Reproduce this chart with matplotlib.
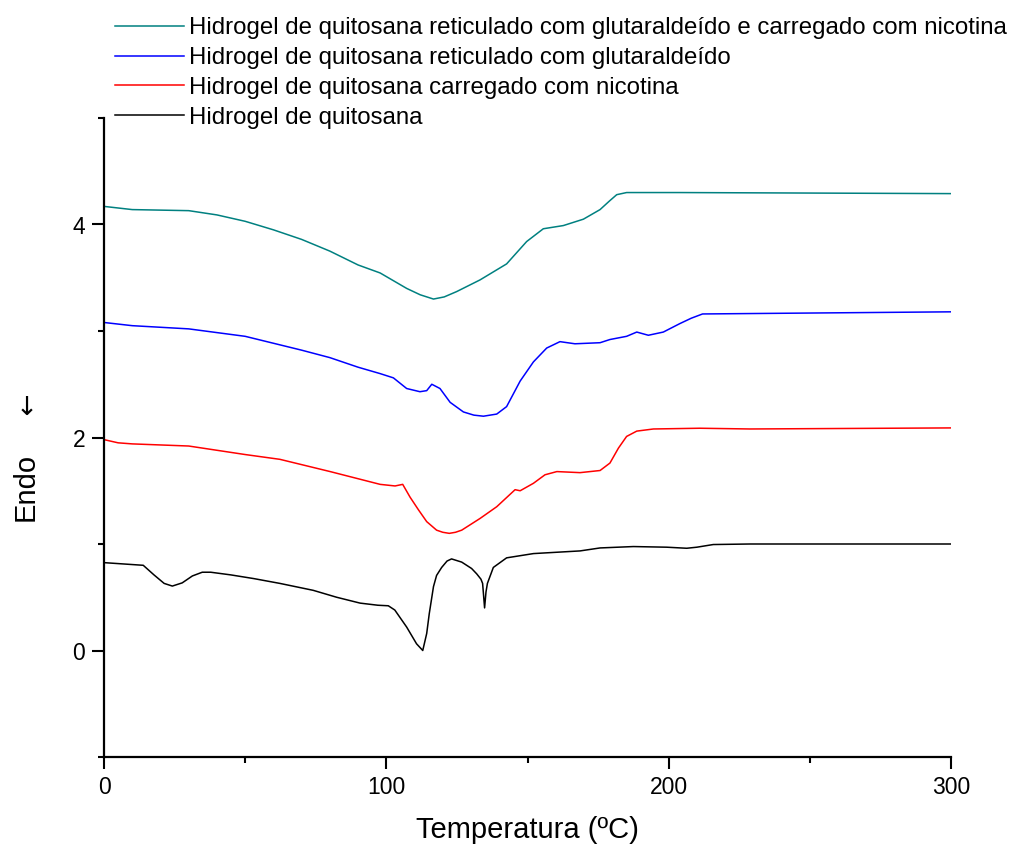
import matplotlib
matplotlib.use('Agg')
import matplotlib.pyplot as plt
from matplotlib.ticker import MultipleLocator

plt.rcParams['font.family'] = ['Liberation Sans', 'DejaVu Sans']

# Hidrogel de quitosana
black_x = [0, 13.9, 17.7, 21.3, 24.2, 27.7, 31.3, 34.8, 37.8, 44.9, 53.1, 62.3, 74.1, 82.4, 90.7,
           97, 100.7, 103, 107.2, 110.7, 112.9, 114.3, 115.2, 116.7, 117.8, 119.6, 121.5, 123.1, 126.7,
           130.2, 132.0, 133.5, 134.1, 134.8, 135.3, 135.8, 137.9, 142.6, 152.1, 168.6, 175.7, 187.5,
           199.3, 206.4, 210, 215.8, 228.8, 300]
black_y = [0.825, 0.80, 0.71, 0.63, 0.605, 0.635, 0.70, 0.735, 0.735, 0.71, 0.675, 0.63, 0.565, 0.50,
           0.445, 0.425, 0.42, 0.38, 0.22, 0.063, 0.0, 0.16, 0.345, 0.6, 0.705, 0.78, 0.84, 0.86, 0.83,
           0.77, 0.72, 0.67, 0.63, 0.40, 0.55, 0.63, 0.78, 0.87, 0.91, 0.935, 0.963, 0.976,
           0.97, 0.96, 0.97, 0.995, 1.0, 1.0]

# Hidrogel de quitosana carregado com nicotina
red_x = [0, 5, 10, 30, 50, 62.3, 80.1, 97.8, 103.1, 105.8, 108.4, 111.4, 114.3, 117.8, 120, 122.3,
         124.5, 126.7, 133.2, 139.1, 145.6, 147.4, 152.1, 156.2, 160.4, 168.6, 175.7, 179.2, 182.2,
         185.1, 188.7, 194.6, 211, 228.8, 300]
red_y = [1.98, 1.95, 1.94, 1.92, 1.84, 1.795, 1.68, 1.56, 1.545, 1.56, 1.44, 1.32, 1.21, 1.13, 1.11,
         1.10, 1.11, 1.13, 1.24, 1.35, 1.51, 1.50, 1.57, 1.65, 1.68, 1.67, 1.69, 1.76, 1.90,
         2.01, 2.06, 2.08, 2.087, 2.08, 2.09]

# Hidrogel de quitosana reticulado com glutaraldeido
blue_x = [0, 10, 30, 50, 70, 80, 90, 97.8, 102.5, 107.2, 111.9, 114.3, 116.1, 119.0, 122.6, 127.3,
          131, 134.4, 139.1, 142.6, 147.4, 152.1, 156.8, 161.5, 166.8, 175.7, 179.2, 185.1, 188.7,
          192.8, 198.1, 204, 208, 212, 300]
blue_y = [3.08, 3.05, 3.02, 2.95, 2.82, 2.75, 2.66, 2.60, 2.56, 2.46, 2.43, 2.44, 2.50, 2.46, 2.33, 2.24,
          2.21, 2.20, 2.22, 2.29, 2.53, 2.71, 2.84, 2.90, 2.88, 2.89, 2.92, 2.95, 2.99,
          2.96, 2.99, 3.07, 3.12, 3.16, 3.18]

# reticulado com glutaraldeido e carregado com nicotina
teal_x = [0, 10, 30, 40, 50, 60, 70, 80, 90, 97.8, 107.2, 112, 116.7, 120.5, 124.9, 133.2, 142.6, 149.7,
          155.6, 162.7, 169.8, 175.7, 179, 181.6, 185.1, 204, 300]
teal_y = [4.17, 4.14, 4.13, 4.09, 4.03, 3.95, 3.86, 3.75, 3.62, 3.545, 3.40, 3.34, 3.30, 3.32, 3.37,
          3.48, 3.63, 3.84, 3.96, 3.99, 4.05, 4.14, 4.22, 4.28, 4.30, 4.30, 4.29]

labels = ['Hidrogel de quitosana reticulado com glutaraldeído e carregado com nicotina',
          'Hidrogel de quitosana reticulado com glutaraldeído',
          'Hidrogel de quitosana carregado com nicotina',
          'Hidrogel de quitosana']

fig = plt.figure(figsize=(10.21, 8.46), dpi=100)
ax = fig.add_axes([104/1021, 1-757/846, 847/1021, 639/846])

l4, = ax.plot(black_x, black_y, c='black', lw=1.1)
l3, = ax.plot(red_x, red_y, c='#ff0000', lw=1.1)
l2, = ax.plot(blue_x, blue_y, c='#0000ff', lw=1.1)
l1, = ax.plot(teal_x, teal_y, c='#008080', lw=1.1)

ax.set_xlim(0, 300)
ax.set_ylim(-1, 5)
ax.xaxis.set_major_locator(MultipleLocator(100))
ax.xaxis.set_minor_locator(MultipleLocator(50))
ax.set_yticks([0, 2, 4])
ax.set_yticks([-1, 1, 3, 5], minor=True)
ax.spines['top'].set_visible(False)
ax.spines['right'].set_visible(False)
for s in ['left', 'bottom']:
    ax.spines[s].set_linewidth(1.6)
ax.tick_params(which='major', length=8.5, width=1.5, labelsize=16.5, pad=5)
ax.tick_params(which='minor', length=4.5, width=1.5)

ax.set_xlabel('Temperatura (ºC)', fontsize=21, va='top')
ax.xaxis.set_label_coords(0.5, -0.092)
ax.set_ylabel('Endo', fontsize=21)
ax.yaxis.set_label_coords(-0.076, 0.423)
# arrow drawn apart so it gets the bigger DejaVu glyph
fig.text(27/1021, 1-408/846, '\u2193', fontsize=19, family='DejaVu Sans', ha='center', va='center')

fig.legend([l1, l2, l3, l4], labels, loc='upper left', bbox_to_anchor=(115/1021, 1-17/846),
           frameon=False, fontsize=17.25, handlelength=2.9, handletextpad=0.2,
           labelspacing=0.33, borderpad=0, borderaxespad=0)

plt.savefig('out.png', dpi=100)
